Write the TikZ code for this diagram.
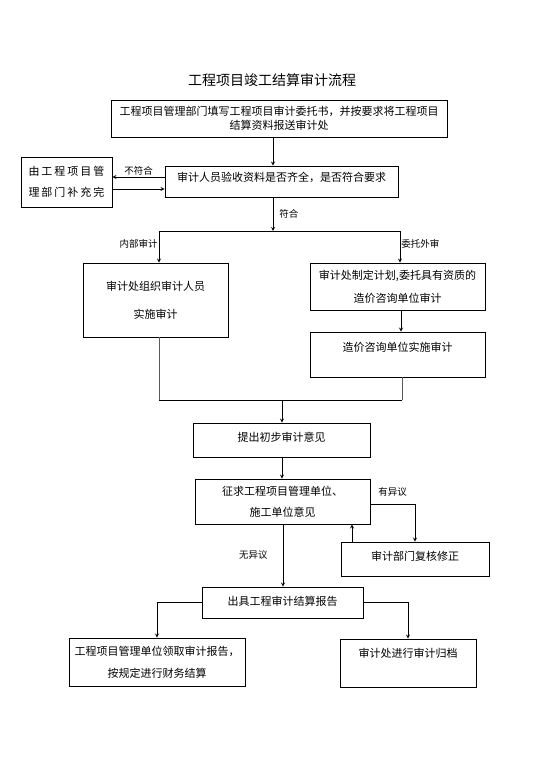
\documentclass[tikz,border=0pt]{standalone}
\usepackage{fontspec}
\setmainfont{Noto Sans CJK SC}
\usetikzlibrary{positioning,calc,arrows}
\tikzset{
  flowbox/.style={draw=black, line width=0.9pt, align=center,
                  font=\fontsize{11}{14}\selectfont, inner sep=2pt},
  flowarr/.style={->, >=stealth, draw=black, line width=0.8pt},
  flowline/.style={draw=black, line width=0.8pt},
  flowfade/.style={draw=black!65, line width=1pt},
  flowlbl/.style={font=\fontsize{9.5}{11}\selectfont, inner sep=1pt},
  lift/.style={text height=9pt, text depth=#1},
}
\newcommand{\spreadtext}[2]{\makebox[#1]{#2}}
\newcommand{\AXU}{273}
\newcommand{\AXL}{282}
\newcommand{\CL}{159}
\newcommand{\CR}{400}
\newcommand{\YSPLIT}{231}
\newcommand{\YMERGE}{400}

\begin{document}
\begin{tikzpicture}[x=1pt, y=-1pt]
  \useasboundingbox (0,0) rectangle (543,768);

  \node[font=\fontsize{14}{16}\selectfont] (title) at (272,80) {工程项目竣工结算审计流程};

  % boxes
  \node[flowbox, minimum width=336pt, minimum height=37pt] (submit) at (279,118.5)
    {工程项目管理部门填写工程项目审计委托书，并按要求将工程项目\\结算资料报送审计处};
  \node[flowbox, lift=9.6pt, minimum width=233pt, minimum height=31pt] (check) at (281.5,181.5)
    {审计人员验收资料是否齐全，是否符合要求};
  \node[flowbox, minimum width=91pt, minimum height=50pt] (supply) at (66.5,182)
    {\spreadtext{76pt}{由\hfill 工\hfill 程\hfill 项\hfill 目\hfill 管}\\[7pt]
     \spreadtext{76pt}{理\hfill 部\hfill 门\hfill 补\hfill 充\hfill 完}};
  \node[flowbox, minimum width=145pt, minimum height=74pt] (internal) at (155.5,300)
    {审计处组织审计人员\\[14pt]实施审计};
  \node[flowbox, minimum width=175pt, minimum height=47pt] (entrust) at (397.5,286.5)
    {审计处制定计划,委托具有资质的\\[9pt]造价咨询单位审计};
  \node[flowbox, lift=15.6pt, minimum width=175pt, minimum height=45pt] (consult) at (397.5,354.5)
    {造价咨询单位实施审计};
  \node[flowbox, lift=6.6pt, minimum width=177pt, minimum height=34pt] (opinion) at (281.5,440)
    {提出初步审计意见};
  \node[flowbox, minimum width=175pt, minimum height=45pt] (solicit) at (282.5,501.5)
    {征求工程项目管理单位、\\[7pt]施工单位意见};
  \node[flowbox, lift=6.6pt, minimum width=148pt, minimum height=34pt] (review) at (415,559)
    {审计部门复核修正};
  \node[flowbox, lift=3.6pt, minimum width=161pt, minimum height=31pt] (report) at (282.5,602.5)
    {出具工程审计结算报告};
  \node[flowbox, minimum width=176pt, minimum height=48pt] (settle) at (157,662)
    {工程项目管理单位领取审计报告，\\[8pt]按规定进行财务结算};
  \node[flowbox, lift=20.6pt, minimum width=136pt, minimum height=48pt] (archive) at (408,663)
    {审计处进行审计归档};

  % junctions
  \coordinate (split) at (\AXU,\YSPLIT);
  \coordinate (lsplit) at (\CL,\YSPLIT);
  \coordinate (rsplit) at (\CR,\YSPLIT);
  \coordinate (merge) at (\AXL,\YMERGE);
  \coordinate (lmerge) at (\CL,\YMERGE);
  \coordinate (rmerge) at (402,\YMERGE);

  % connectors
  \draw[flowarr] (submit.south -| split) -- (check.north -| split);
  \draw[flowarr] ([yshift=4.5pt]check.west) -- ([yshift=4.5pt]check.west -| supply.east)
    node[flowlbl, midway, above] (nofit) {不符合};
  \draw[flowarr] ([yshift=-7pt]supply.east) -- ([yshift=-7pt]supply.east -| check.west);
  \draw[flowarr] (check.south -| split) -- (split)
    node[flowlbl, midway, right, xshift=5pt] (fit) {符合};
  \draw[flowline] (lsplit) -- (rsplit);
  \draw[flowarr] (lsplit) -- (lsplit |- internal.north)
    node[flowlbl, pos=0.4, left] (inner) {内部审计};
  \draw[flowarr] (rsplit) -- (rsplit |- entrust.north)
    node[flowlbl, pos=0.4, right] (outer) {委托外审};
  \draw[flowarr] (entrust.south -| 401,0) -- (consult.north -| 401,0);

  \draw[flowfade] (internal.south -| lmerge) -- (lmerge);
  \draw[flowfade] (consult.south -| rmerge) -- (rmerge);
  \draw[flowline] (lmerge) -- (rmerge);
  \draw[flowarr] (merge) -- (opinion.north -| merge);
  \draw[flowarr] (opinion.south -| merge) -- (solicit.north -| merge);

  \draw[flowarr] ([yshift=-2.5pt]solicit.east) -| (review.north)
    node[flowlbl, pos=0.25, above=6pt] (object) {有异议};
  \draw[flowarr] ([xshift=-63pt]review.north) -- ([xshift=-63pt]review.north |- solicit.south);
  \draw[flowarr] (solicit.south -| 283,0) -- (report.north -| 283,0)
    node[flowlbl, midway, left, xshift=-14pt] (agree) {无异议};

  \draw[flowarr] (report.west) -| (settle.north);
  \draw[flowarr] (report.east) -| (archive.north);

\end{tikzpicture}
\end{document}
